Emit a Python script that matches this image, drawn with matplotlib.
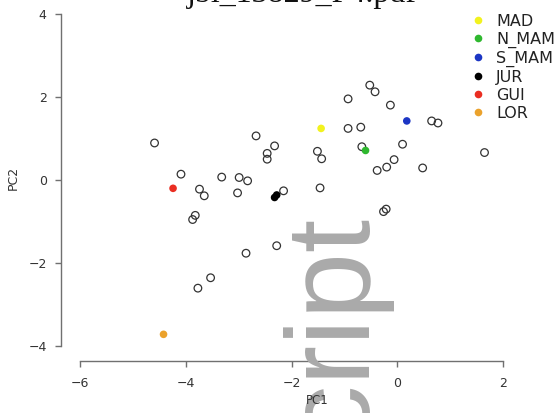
import matplotlib
matplotlib.use('Agg')
import matplotlib.pyplot as plt
from matplotlib.lines import Line2D

# PCA scores of the individual samples (PC1, PC2)
pc1_all = [-4.59, -4.09, -3.74, -3.65, -3.32, -2.99, -2.83, -3.02, -2.67, -2.32,
           -2.46, -2.46, -2.15, -3.82, -3.87, -2.86, -2.28, -3.53, -3.77, -0.52,
           -0.42, -0.93, -0.13, 0.65, 0.77, -0.93, -0.69, -0.67, 0.10, -1.51,
           -1.43, -0.06, -0.20, -0.38, 0.48, 1.65, -1.46, -0.26, -0.21]
pc2_all = [0.89, 0.14, -0.22, -0.38, 0.07, 0.06, -0.02, -0.31, 1.06, 0.82,
           0.64, 0.50, -0.26, -0.85, -0.95, -1.76, -1.58, -2.35, -2.60, 2.28,
           2.12, 1.95, 1.80, 1.42, 1.37, 1.24, 1.27, 0.80, 0.86, 0.69,
           0.51, 0.49, 0.31, 0.23, 0.29, 0.66, -0.19, -0.76, -0.70]

# group centroids
groups = ['MAD', 'N_MAM', 'S_MAM', 'JUR', 'GUI', 'LOR']
group_cols = ['#f2f21e', '#2fb82f', '#1c36c4', '#000000', '#ea2e22', '#eba22c']
group_pc1 = [-1.44, -0.60, 0.18, -2.32, -4.24, -4.42]
group_pc2 = [1.24, 0.71, 1.42, -0.42, -0.20, -3.71]

fig = plt.figure(figsize=(5.59, 4.13), dpi=100)
ax = fig.add_axes([61/559, 52/413, 460/559, 361/413])

ax.scatter(pc1_all, pc2_all, s=30, facecolors='none', edgecolors='#333333',
           linewidths=0.9, zorder=2)
ax.scatter(group_pc1, group_pc2, s=30, c=group_cols, edgecolors='none', zorder=3)
# JUR sits on top of a second sample
ax.scatter([group_pc1[3] + 0.04], [group_pc2[3] + 0.06], s=30, c='#000000',
           edgecolors='none', zorder=3)

ax.set_xlim(-6.359, 2.34)
ax.set_ylim(-4.351, 4.327)
ax.set_xticks([-6, -4, -2, 0, 2])
ax.set_yticks([-4, -2, 0, 2, 4])

for side in ['top', 'right']:
    ax.spines[side].set_visible(False)
ax.spines['left'].set_bounds(-4, 4)
ax.spines['bottom'].set_bounds(-6, 2)
for side in ['left', 'bottom']:
    ax.spines[side].set_color('#707070')
    ax.spines[side].set_linewidth(1.0)
ax.tick_params(direction='out', length=4.3, width=1.0, color='#707070',
               labelsize=9, labelcolor='#333333')
ax.tick_params(axis='y', pad=6)
ax.tick_params(axis='x', pad=7)

fig.text(317/559, 1 - 400/413, 'PC1', ha='center', va='center',
         fontsize=8.5, color='#333333', zorder=11)
fig.text(13/559, 1 - 178/413, 'PC2', ha='center', va='center',
         rotation=90, fontsize=9, color='#333333')

fig.text(302/559, 1 - 2/413, 'jbi_13829_F4.pdf', ha='center', va='baseline',
         family='Liberation Serif', fontsize=23, color='#111111')

handles = [Line2D([], [], marker='o', linestyle='none', markersize=5.5,
                  markerfacecolor=c, markeredgecolor='none') for c in group_cols]
ax.legend(handles, groups, loc='upper left', bbox_to_anchor=(472/559, 1 - 13.5/413),
          bbox_transform=fig.transFigure, frameon=False, fontsize=11.5,
          handlelength=0.8, handletextpad=0.7, labelspacing=0.19,
          borderpad=0, borderaxespad=0, labelcolor='#222222')

# watermark
fig.text(274/559, 1 - 209/413, 'Manuscript', rotation=90, ha='left', va='top',
         family=['Liberation Sans Narrow', 'Liberation Sans'], fontsize=86,
         color='#aaaaaa', zorder=10)

fig.savefig('out.png', dpi=100)
